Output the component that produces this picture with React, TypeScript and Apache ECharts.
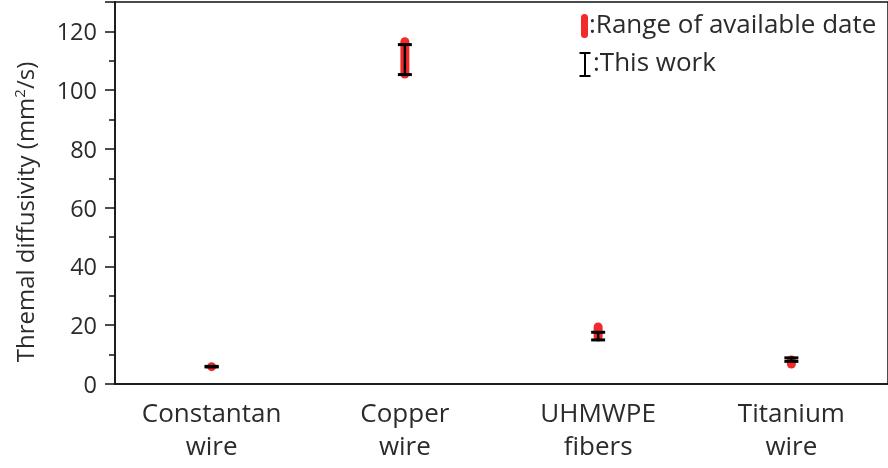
import { useEffect, useRef } from "react";
import * as echarts from "echarts";

// Materials compared on the horizontal axis
const categories = ["Constantan\nwire", "Copper\nwire", "UHMWPE\nfibers", "Titanium\nwire"];

// Range of values reported in the literature (mm²/s)
const availableLow = [5.9, 105.5, 16.0, 6.8];
const availableHigh = [5.9, 116.5, 19.4, 8.2];

// Values measured in this work (mm²/s)
const workLow = [5.8, 105.3, 15.0, 7.7];
const workHigh = [6.0, 115.5, 17.6, 8.9];

// Y axis
const yMin = 0;
const yMax = 130;
const yInterval = 20;
const yTitle = "Thremal diffusivity (mm{sup|2}/s)";

const RED = "#f32a2a";
const INK = "#111111";
const TEXT = "#2b2b2b";
const FONT = "'Open Sans', 'Noto Sans', sans-serif";

export default function App() {
  const ref = useRef<HTMLDivElement>(null);

  useEffect(() => {
    if (!ref.current) return;
    const chart = echarts.init(ref.current, null, { renderer: "svg" });

    const rangeData = categories.map((_, i) => [i, availableLow[i], availableHigh[i]]);
    const workData = categories.map((_, i) => [i, workLow[i], workHigh[i]]);

    chart.setOption({
      animation: false,
      textStyle: { fontFamily: FONT },
      grid: { left: 115, right: -2, top: 2, bottom: 84, show: true, borderColor: INK, borderWidth: 1.5 },
      xAxis: {
        type: "category",
        data: categories,
        boundaryGap: true,
        axisLine: { lineStyle: { color: INK, width: 1.5 } },
        axisTick: { alignWithLabel: true, inside: true, length: 6, lineStyle: { color: INK, width: 1.5 } },
        axisLabel: { color: TEXT, fontSize: 26, lineHeight: 33, margin: 11, fontFamily: FONT },
        splitLine: { show: false },
      },
      yAxis: {
        type: "value",
        min: yMin,
        max: yMax,
        interval: yInterval,
        axisLine: { show: true, lineStyle: { color: INK, width: 1.5 } },
        axisTick: { show: true, inside: false, length: 10, lineStyle: { color: INK, width: 1.5 } },
        minorTick: { show: true, splitNumber: 2, length: 6, lineStyle: { color: INK, width: 1.5 } },
        axisLabel: {
          color: TEXT,
          fontSize: 23.5,
          margin: 18,
          fontFamily: FONT,
          formatter: (v: number) => (v > 120 ? "" : String(v)),
        },
        splitLine: { show: false },
      },
      series: [
        {
          type: "custom",
          name: "Range of available date",
          data: rangeData,
          encode: { x: 0, y: [1, 2] },
          renderItem: (_params: any, api: any) => {
            const lo = api.coord([api.value(0), api.value(1)]);
            const hi = api.coord([api.value(0), api.value(2)]);
            const w = 9;
            return {
              type: "rect",
              shape: { x: lo[0] - w / 2, y: hi[1] - w / 2, width: w, height: lo[1] - hi[1] + w, r: w / 2 },
              style: { fill: RED },
            };
          },
        },
        {
          type: "custom",
          name: "This work",
          data: workData,
          encode: { x: 0, y: [1, 2] },
          z: 3,
          renderItem: (_params: any, api: any) => {
            const lo = api.coord([api.value(0), api.value(1)]);
            const hi = api.coord([api.value(0), api.value(2)]);
            const x = lo[0];
            const half = 7;
            return {
              type: "group",
              children: [
                { type: "line", shape: { x1: x, y1: hi[1], x2: x, y2: lo[1] }, style: { stroke: "#000", lineWidth: 2.5 } },
                { type: "line", shape: { x1: x - half, y1: hi[1], x2: x + half, y2: hi[1] }, style: { stroke: "#000", lineWidth: 3 } },
                { type: "line", shape: { x1: x - half, y1: lo[1], x2: x + half, y2: lo[1] }, style: { stroke: "#000", lineWidth: 3 } },
              ],
            };
          },
        },
      ],
      graphic: [
        // Y-axis title, rotated to read bottom-to-top
        {
          type: "text",
          x: 24,
          y: 212,
          rotation: Math.PI / 2,
          style: {
            text: yTitle,
            fontSize: 24,
            fill: TEXT,
            fontFamily: FONT,
            align: "center",
            verticalAlign: "middle",
            rich: {
              sup: { fontSize: 15, fill: TEXT, fontFamily: FONT, verticalAlign: "top", padding: [0, 0, 11, 0] },
            },
          },
        },
        // Legend
        { type: "rect", left: 581, top: 14, shape: { width: 7, height: 24, r: 3.5 }, style: { fill: RED } },
        {
          type: "text",
          left: 589,
          top: 10,
          style: { text: ":Range of available date", fontSize: 26, fill: TEXT, fontFamily: FONT },
        },
        { type: "line", shape: { x1: 585, y1: 53, x2: 585, y2: 76 }, style: { stroke: "#000", lineWidth: 2 } },
        { type: "line", shape: { x1: 579.5, y1: 53, x2: 590.5, y2: 53 }, style: { stroke: "#000", lineWidth: 2 } },
        { type: "line", shape: { x1: 579.5, y1: 76, x2: 590.5, y2: 76 }, style: { stroke: "#000", lineWidth: 2 } },
        {
          type: "text",
          left: 593,
          top: 48,
          style: { text: ":This work", fontSize: 26, fill: TEXT, fontFamily: FONT },
        },
      ],
    });

    return () => chart.dispose();
  }, []);

  return <div ref={ref} style={{ width: 888, height: 468, position: "fixed", left: 0, top: 0 }} />;
}
